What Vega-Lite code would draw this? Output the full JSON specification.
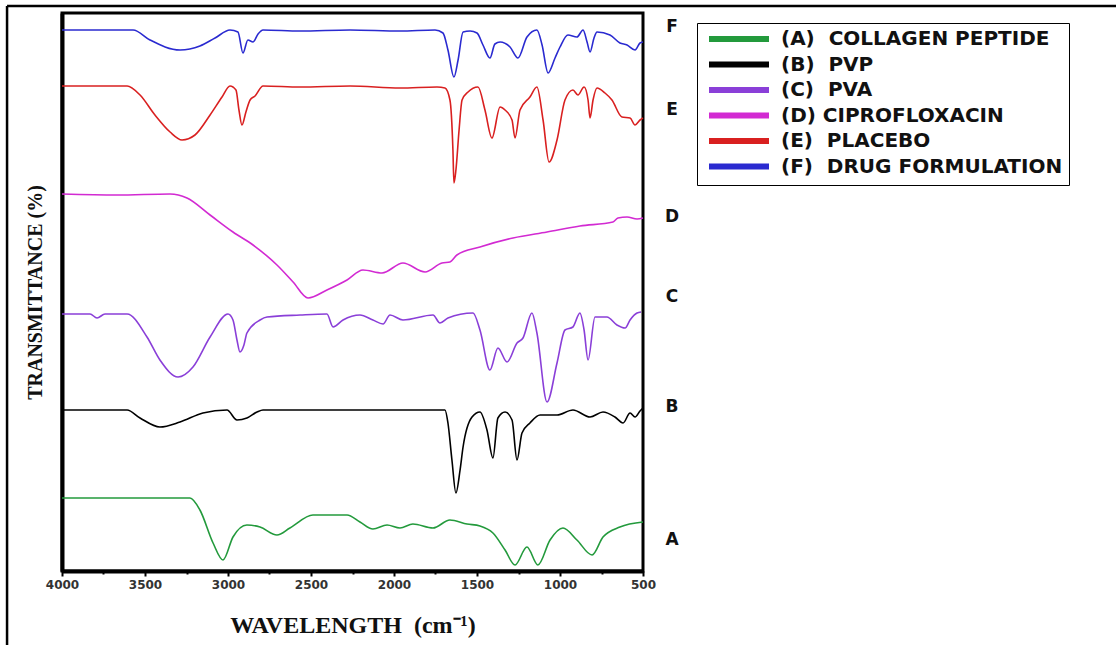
{
  "$schema": "https://vega.github.io/schema/vega-lite/v6.json",
  "width": 581,
  "height": 558,
  "autosize": {"type": "none"},
  "padding": {"left": 62, "top": 13, "right": 473, "bottom": 74},
  "background": "white",
  "config": {
    "view": {"stroke": "black", "strokeWidth": 3}
  },
  "datasets": {
    "spectra": [
      {"s":"F","w":4000,"t":541},{"s":"F","w":3572,"t":541},{"s":"F","w":3470,"t":531},{"s":"F","w":3289,"t":521},{"s":"F","w":3169,"t":525},{"s":"F","w":3078,"t":533},{"s":"F","w":2988,"t":541},{"s":"F","w":2940,"t":539},{"s":"F","w":2910,"t":518},{"s":"F","w":2880,"t":531},{"s":"F","w":2849,"t":529},{"s":"F","w":2819,"t":537},{"s":"F","w":2789,"t":541},{"s":"F","w":2566,"t":540},{"s":"F","w":2265,"t":541},{"s":"F","w":1964,"t":540},{"s":"F","w":1753,"t":541},{"s":"F","w":1705,"t":538},{"s":"F","w":1675,"t":521},{"s":"F","w":1639,"t":494},{"s":"F","w":1614,"t":511},{"s":"F","w":1584,"t":539},{"s":"F","w":1542,"t":540},{"s":"F","w":1500,"t":538},{"s":"F","w":1464,"t":526},{"s":"F","w":1422,"t":513},{"s":"F","w":1392,"t":527},{"s":"F","w":1361,"t":529},{"s":"F","w":1301,"t":524},{"s":"F","w":1253,"t":513},{"s":"F","w":1199,"t":534},{"s":"F","w":1139,"t":541},{"s":"F","w":1108,"t":526},{"s":"F","w":1072,"t":498},{"s":"F","w":1030,"t":513},{"s":"F","w":1000,"t":524},{"s":"F","w":952,"t":536},{"s":"F","w":898,"t":534},{"s":"F","w":861,"t":541},{"s":"F","w":837,"t":529},{"s":"F","w":819,"t":519},{"s":"F","w":795,"t":533},{"s":"F","w":777,"t":539},{"s":"F","w":699,"t":536},{"s":"F","w":639,"t":528},{"s":"F","w":596,"t":526},{"s":"F","w":548,"t":521},{"s":"F","w":518,"t":528},{"s":"F","w":500,"t":529},

      {"s":"E","w":4000,"t":485},{"s":"E","w":3608,"t":485},{"s":"E","w":3530,"t":476},{"s":"E","w":3440,"t":456},{"s":"E","w":3349,"t":439},{"s":"E","w":3277,"t":431},{"s":"E","w":3199,"t":436},{"s":"E","w":3108,"t":456},{"s":"E","w":3036,"t":474},{"s":"E","w":2988,"t":485},{"s":"E","w":2952,"t":481},{"s":"E","w":2934,"t":461},{"s":"E","w":2916,"t":446},{"s":"E","w":2892,"t":459},{"s":"E","w":2867,"t":471},{"s":"E","w":2837,"t":475},{"s":"E","w":2789,"t":485},{"s":"E","w":2566,"t":484},{"s":"E","w":2265,"t":485},{"s":"E","w":1964,"t":483},{"s":"E","w":1741,"t":484},{"s":"E","w":1693,"t":483},{"s":"E","w":1663,"t":471},{"s":"E","w":1645,"t":421},{"s":"E","w":1639,"t":388},{"s":"E","w":1627,"t":401},{"s":"E","w":1608,"t":441},{"s":"E","w":1590,"t":471},{"s":"E","w":1554,"t":479},{"s":"E","w":1494,"t":484},{"s":"E","w":1452,"t":461},{"s":"E","w":1410,"t":433},{"s":"E","w":1361,"t":464},{"s":"E","w":1331,"t":461},{"s":"E","w":1289,"t":451},{"s":"E","w":1271,"t":433},{"s":"E","w":1241,"t":461},{"s":"E","w":1181,"t":474},{"s":"E","w":1139,"t":484},{"s":"E","w":1102,"t":451},{"s":"E","w":1066,"t":409},{"s":"E","w":1018,"t":431},{"s":"E","w":970,"t":471},{"s":"E","w":922,"t":481},{"s":"E","w":892,"t":476},{"s":"E","w":855,"t":484},{"s":"E","w":831,"t":471},{"s":"E","w":819,"t":453},{"s":"E","w":801,"t":471},{"s":"E","w":777,"t":483},{"s":"E","w":729,"t":478},{"s":"E","w":687,"t":471},{"s":"E","w":627,"t":454},{"s":"E","w":578,"t":453},{"s":"E","w":548,"t":446},{"s":"E","w":518,"t":451},{"s":"E","w":500,"t":453},

      {"s":"D","w":4000,"t":377},{"s":"D","w":3669,"t":376},{"s":"D","w":3349,"t":377},{"s":"D","w":3247,"t":373},{"s":"D","w":3108,"t":356},{"s":"D","w":2970,"t":339},{"s":"D","w":2849,"t":326},{"s":"D","w":2705,"t":306},{"s":"D","w":2608,"t":289},{"s":"D","w":2518,"t":273},{"s":"D","w":2404,"t":281},{"s":"D","w":2283,"t":291},{"s":"D","w":2187,"t":301},{"s":"D","w":2072,"t":298},{"s":"D","w":1946,"t":308},{"s":"D","w":1813,"t":299},{"s":"D","w":1711,"t":308},{"s":"D","w":1663,"t":309},{"s":"D","w":1621,"t":316},{"s":"D","w":1482,"t":324},{"s":"D","w":1283,"t":333},{"s":"D","w":1078,"t":339},{"s":"D","w":880,"t":345},{"s":"D","w":681,"t":349},{"s":"D","w":651,"t":353},{"s":"D","w":596,"t":354},{"s":"D","w":536,"t":352},{"s":"D","w":500,"t":353},

      {"s":"C","w":4000,"t":257},{"s":"C","w":3831,"t":257},{"s":"C","w":3789,"t":253},{"s":"C","w":3741,"t":257},{"s":"C","w":3608,"t":257},{"s":"C","w":3488,"t":234},{"s":"C","w":3410,"t":211},{"s":"C","w":3301,"t":194},{"s":"C","w":3211,"t":204},{"s":"C","w":3108,"t":234},{"s":"C","w":3000,"t":257},{"s":"C","w":2970,"t":251},{"s":"C","w":2946,"t":231},{"s":"C","w":2928,"t":219},{"s":"C","w":2904,"t":226},{"s":"C","w":2886,"t":238},{"s":"C","w":2807,"t":251},{"s":"C","w":2765,"t":254},{"s":"C","w":2566,"t":256},{"s":"C","w":2404,"t":257},{"s":"C","w":2367,"t":244},{"s":"C","w":2307,"t":251},{"s":"C","w":2205,"t":256},{"s":"C","w":2127,"t":251},{"s":"C","w":2066,"t":247},{"s":"C","w":2024,"t":256},{"s":"C","w":1946,"t":251},{"s":"C","w":1765,"t":256},{"s":"C","w":1723,"t":248},{"s":"C","w":1675,"t":253},{"s":"C","w":1524,"t":258},{"s":"C","w":1482,"t":241},{"s":"C","w":1422,"t":201},{"s":"C","w":1374,"t":223},{"s":"C","w":1319,"t":209},{"s":"C","w":1259,"t":228},{"s":"C","w":1223,"t":233},{"s":"C","w":1169,"t":258},{"s":"C","w":1139,"t":238},{"s":"C","w":1078,"t":169},{"s":"C","w":1018,"t":208},{"s":"C","w":970,"t":241},{"s":"C","w":922,"t":244},{"s":"C","w":880,"t":258},{"s":"C","w":855,"t":241},{"s":"C","w":831,"t":211},{"s":"C","w":789,"t":254},{"s":"C","w":717,"t":254},{"s":"C","w":657,"t":246},{"s":"C","w":608,"t":243},{"s":"C","w":578,"t":251},{"s":"C","w":536,"t":258},{"s":"C","w":512,"t":259},

      {"s":"B","w":4000,"t":161},{"s":"B","w":3608,"t":161},{"s":"B","w":3530,"t":153},{"s":"B","w":3410,"t":144},{"s":"B","w":3289,"t":149},{"s":"B","w":3151,"t":158},{"s":"B","w":3006,"t":161},{"s":"B","w":2946,"t":151},{"s":"B","w":2886,"t":153},{"s":"B","w":2825,"t":159},{"s":"B","w":2789,"t":161},{"s":"B","w":2265,"t":161},{"s":"B","w":1693,"t":161},{"s":"B","w":1675,"t":148},{"s":"B","w":1651,"t":111},{"s":"B","w":1627,"t":78},{"s":"B","w":1602,"t":101},{"s":"B","w":1584,"t":124},{"s":"B","w":1530,"t":154},{"s":"B","w":1482,"t":159},{"s":"B","w":1440,"t":141},{"s":"B","w":1404,"t":113},{"s":"B","w":1374,"t":153},{"s":"B","w":1331,"t":159},{"s":"B","w":1289,"t":151},{"s":"B","w":1259,"t":111},{"s":"B","w":1229,"t":138},{"s":"B","w":1181,"t":148},{"s":"B","w":1120,"t":156},{"s":"B","w":1018,"t":156},{"s":"B","w":922,"t":161},{"s":"B","w":819,"t":154},{"s":"B","w":741,"t":159},{"s":"B","w":669,"t":154},{"s":"B","w":620,"t":148},{"s":"B","w":578,"t":158},{"s":"B","w":548,"t":154},{"s":"B","w":518,"t":160},{"s":"B","w":500,"t":163},

      {"s":"A","w":4000,"t":73},{"s":"A","w":3229,"t":73},{"s":"A","w":3169,"t":61},{"s":"A","w":3090,"t":28},{"s":"A","w":3030,"t":11},{"s":"A","w":2970,"t":34},{"s":"A","w":2886,"t":46},{"s":"A","w":2807,"t":44},{"s":"A","w":2705,"t":36},{"s":"A","w":2627,"t":43},{"s":"A","w":2488,"t":56},{"s":"A","w":2283,"t":56},{"s":"A","w":2205,"t":49},{"s":"A","w":2127,"t":42},{"s":"A","w":2042,"t":46},{"s":"A","w":1964,"t":43},{"s":"A","w":1886,"t":47},{"s":"A","w":1765,"t":43},{"s":"A","w":1663,"t":51},{"s":"A","w":1560,"t":47},{"s":"A","w":1482,"t":45},{"s":"A","w":1404,"t":38},{"s":"A","w":1331,"t":21},{"s":"A","w":1271,"t":6},{"s":"A","w":1199,"t":24},{"s":"A","w":1133,"t":6},{"s":"A","w":1060,"t":31},{"s":"A","w":982,"t":43},{"s":"A","w":898,"t":31},{"s":"A","w":807,"t":16},{"s":"A","w":741,"t":34},{"s":"A","w":639,"t":44},{"s":"A","w":500,"t":49}
    ],
    "letters": [
      {"lab":"F","w":325,"t":544},{"lab":"E","w":325,"t":461},{"lab":"D","w":325,"t":354},{"lab":"C","w":325,"t":274},{"lab":"B","w":325,"t":164},{"lab":"A","w":325,"t":31}
    ],
    "frame": [
      {"w":4331,"w2":-2500,"t":565,"t2":565},
      {"w":4331,"w2":4331,"t":565,"t2":-90}
    ]
  },
  "encoding": {
    "x": {
      "field": "w", "type": "quantitative",
      "scale": {"domain": [4000, 500], "nice": false, "zero": false},
      "axis": {
        "title": "WAVELENGTH\u00a0 (cm⁻¹)",
        "values": [4000,3750,3500,3250,3000,2750,2500,2250,2000,1750,1500,1250,1000,750,500],
        "format": "d",
        "labelExpr": "datum.value % 500 === 0 ? datum.label : ''",
        "labelFont": "DejaVu Sans", "labelFontSize": 12, "labelFontWeight": "bold", "labelColor": "#333",
        "labelPadding": 3, "labelFlush": false, "labelOverlap": false,
        "tickColor": "black", "tickWidth": 2,
        "tickSize": {"condition": {"test": "datum.value % 500 === 0", "value": 5}, "value": 3},
        "domain": true, "domainColor": "black", "domainWidth": 4,
        "grid": false,
        "titleFont": "Liberation Serif", "titleFontSize": 24, "titleFontWeight": "bold", "titleColor": "#111",
        "titlePadding": 23
      }
    },
    "y": {
      "field": "t", "type": "quantitative",
      "scale": {"domain": [0, 558], "nice": false, "zero": false},
      "axis": {
        "title": "TRANSMITTANCE (%)",
        "labels": false, "ticks": false, "grid": false,
        "domain": true, "domainColor": "black", "domainWidth": 4,
        "titleFont": "Liberation Serif", "titleFontSize": 20, "titleFontWeight": "bold", "titleColor": "#111",
        "titlePadding": 17
      }
    }
  },
  "layer": [
    {
      "data": {"name": "frame"},
      "mark": {"type": "rule", "color": "black", "strokeWidth": 2.5},
      "encoding": {
        "x2": {"field": "w2"},
        "y2": {"field": "t2"}
      }
    },
    {
      "data": {"name": "spectra"},
      "mark": {"type": "line", "strokeWidth": 1.6, "interpolate": "monotone"},
      "encoding": {
        "color": {
          "field": "s", "type": "nominal",
          "scale": {"domain": ["A","B","C","D","E","F"], "range": ["#239a3c","#000000","#8a3fd8","#d22ad2","#d92020","#2a2ad0"]},
          "legend": {
            "title": null,
            "orient": "none", "legendX": 635, "legendY": 10,
            "labelExpr": "datum.label === 'A' ? '(A)\u00a0 COLLAGEN PEPTIDE' : datum.label === 'B' ? '(B)\u00a0 PVP' : datum.label === 'C' ? '(C)\u00a0 PVA' : datum.label === 'D' ? '(D) CIPROFLOXACIN' : datum.label === 'E' ? '(E)\u00a0 PLACEBO' : '(F)\u00a0 DRUG FORMULATION'",
            "strokeColor": "black", "padding": 6,
            "symbolType": "M-6,0H6", "symbolSize": 100, "symbolStrokeWidth": 6,
            "symbolOffset": 26,
            "labelFont": "DejaVu Sans", "labelFontSize": 20, "labelFontWeight": "bold", "labelColor": "#111",
            "labelLimit": 500, "labelOffset": 32, "rowPadding": 1.5
          }
        }
      }
    },
    {
      "data": {"name": "letters"},
      "mark": {"type": "text", "font": "DejaVu Sans", "fontSize": 17, "fontWeight": "bold", "color": "#111", "align": "center", "baseline": "middle"},
      "encoding": {
        "text": {"field": "lab"}
      }
    }
  ]
}
